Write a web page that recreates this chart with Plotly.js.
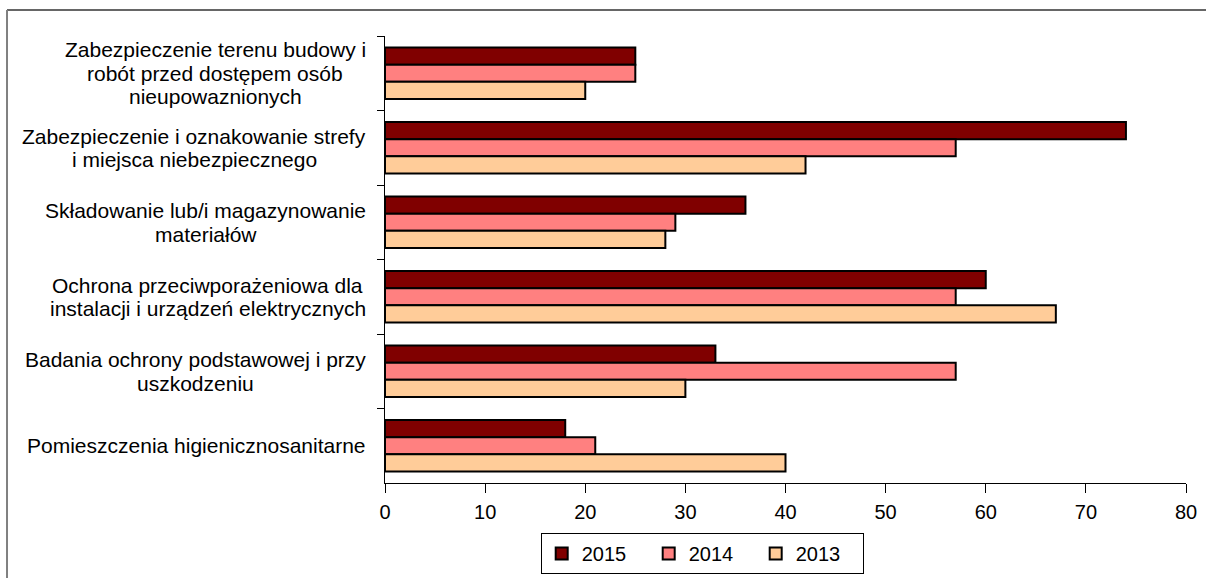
<!DOCTYPE html>
<html>
<head>
<meta charset="utf-8">
<script src="https://cdn.plot.ly/plotly-3.0.1.min.js"></script>
<style>
  html, body { margin: 0; padding: 0; background: #ffffff; }
  #chart { width: 1206px; height: 578px; }
</style>
</head>
<body>
<div id="chart"></div>
<script>
// Categories (top to bottom)
var categories = [
  "Zabezpieczenie terenu budowy i<br>robót przed dostępem osób<br>nieupowaznionych",
  "Zabezpieczenie i oznakowanie strefy<br>i miejsca niebezpiecznego",
  "Składowanie lub/i magazynowanie<br>materiałów",
  "Ochrona przeciwporażeniowa dla<br>instalacji i urządzeń elektrycznych",
  "Badania ochrony podstawowej i przy<br>uszkodzeniu",
  "Pomieszczenia higienicznosanitarne"
];
var seriesNames = ["2015", "2014", "2013"];
var values2015 = [25, 74, 36, 60, 33, 18];
var values2014 = [25, 57, 29, 57, 57, 21];
var values2013 = [20, 42, 28, 67, 30, 40];
var xTicks = [0, 10, 20, 30, 40, 50, 60, 70, 80];

var colors = ["#800000", "#FF8080", "#FFCC99"];
var seriesValues = [values2015, values2014, values2013];
var FONT = "Liberation Sans, Arial, sans-serif";
var LABEL_SIZE = 21;
var LINE_STEP = 23.5;
var PLOT_W = 801;
var LABEL_RIGHT = -0.0237;

var traces = seriesNames.map(function (name, i) {
  return {
    type: "bar",
    orientation: "h",
    name: name,
    x: seriesValues[i],
    y: categories,
    marker: { color: colors[i], line: { color: "#000000", width: 2 } },
    hoverinfo: "x+name"
  };
});

// measure text to centre each label line under a common block centre
var cnv = document.createElement("canvas").getContext("2d");
cnv.font = LABEL_SIZE + "px 'Liberation Sans', Arial, sans-serif";

var annotations = [];
categories.forEach(function (c) {
  var lines = c.split("<br>");
  var maxW = 0;
  lines.forEach(function (l) { maxW = Math.max(maxW, cnv.measureText(l).width); });
  var xc = LABEL_RIGHT - (maxW / 2) / PLOT_W;
  var n = lines.length;
  lines.forEach(function (l, i) {
    annotations.push({
      xref: "paper", yref: "y",
      x: xc, y: c,
      yshift: ((n - 1) / 2 - i) * LINE_STEP,
      text: l,
      showarrow: false,
      xanchor: "center", yanchor: "middle",
      align: "center",
      font: { family: FONT, size: LABEL_SIZE, color: "#000000" }
    });
  });
});

var layout = {
  width: 1206, height: 578,
  margin: { l: 385, r: 20, t: 36, b: 95 },
  paper_bgcolor: "#ffffff",
  plot_bgcolor: "#ffffff",
  barmode: "group",
  bargap: 0.31,
  bargroupgap: 0,
  font: { family: FONT, size: 20, color: "#000000" },
  showlegend: true,
  legend: {
    orientation: "h",
    xref: "paper", yref: "container",
    x: 0.396, xanchor: "center",
    y: 0.078, yanchor: "top",
    bordercolor: "#000000", borderwidth: 1,
    bgcolor: "#ffffff",
    font: { family: FONT, size: 20, color: "#000000" },
    traceorder: "normal",
    itemwidth: 30,
    entrywidth: 62
  },
  xaxis: {
    range: [0, 80],
    tickvals: xTicks,
    ticktext: xTicks.map(String),
    showgrid: false,
    zeroline: false,
    showline: true, linecolor: "#000000", linewidth: 1,
    ticks: "outside", ticklen: 9, tickcolor: "#000000", tickwidth: 1,
    tickfont: { family: FONT, size: 20, color: "#000000" },
    ticklabelstandoff: 2,
    automargin: false,
    fixedrange: true
  },
  yaxis: {
    type: "category",
    categoryorder: "array",
    categoryarray: categories,
    autorange: "reversed",
    showgrid: false,
    zeroline: false,
    showline: true, linecolor: "#000000", linewidth: 1,
    ticks: "outside", tickson: "boundaries", ticklen: 7, tickcolor: "#000000", tickwidth: 1,
    showticklabels: false,
    automargin: false,
    fixedrange: true
  },
  annotations: annotations,
  shapes: [
    { type: "line", xref: "paper", yref: "paper", x0: -0.4719, x1: 1.05, y0: 1.0582, y1: 1.0582,
      line: { color: "#333333", width: 1.5 } },
    { type: "line", xref: "paper", yref: "paper", x0: -0.4719, x1: -0.4719, y0: 1.0582, y1: -0.25,
      line: { color: "#808080", width: 2 } }
  ]
};

Plotly.newPlot("chart", traces, layout, { displayModeBar: false, staticPlot: true });
</script>
</body>
</html>
